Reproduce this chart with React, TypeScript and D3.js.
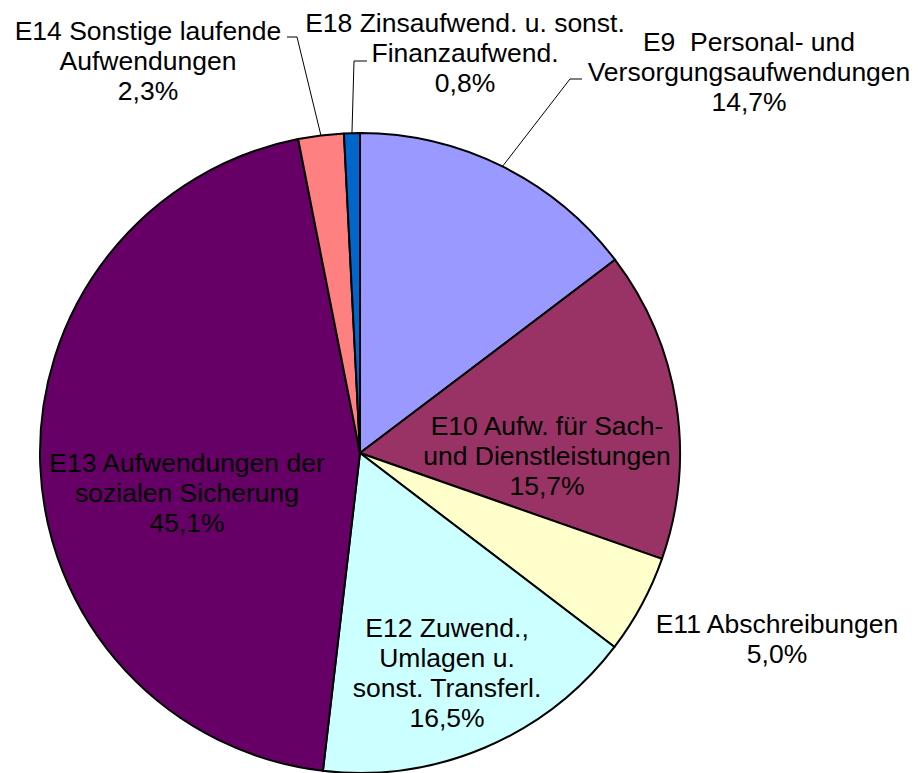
import React from "react";
import * as d3 from "d3";

const categories = [
  "E9  Personal- und Versorgungsaufwendungen",
  "E10 Aufw. für Sach- und Dienstleistungen",
  "E11 Abschreibungen",
  "E12 Zuwend., Umlagen u. sonst. Transferl.",
  "E13 Aufwendungen der sozialen Sicherung",
  "E14 Sonstige laufende Aufwendungen",
  "E18 Zinsaufwend. u. sonst. Finanzaufwend.",
];
const values = [14.7, 15.7, 5.0, 16.5, 45.1, 2.3, 0.8];
const labelLines = [
  ["E9  Personal- und", "Versorgungsaufwendungen", "14,7%"],
  ["E10 Aufw. für Sach-", "und Dienstleistungen", "15,7%"],
  ["E11 Abschreibungen", "5,0%"],
  ["E12 Zuwend.,", "Umlagen u.", "sonst. Transferl.", "16,5%"],
  ["E13 Aufwendungen der", "sozialen Sicherung", "45,1%"],
  ["E14 Sonstige laufende", "Aufwendungen", "2,3%"],
  ["E18 Zinsaufwend. u. sonst.", "Finanzaufwend.", "0,8%"],
];
const colors = ["#9999FF", "#993366", "#FFFFCC", "#CCFFFF", "#660066", "#FF8080", "#0066CC"];

// layout: label center x, first baseline y, optional leader elbow
const labelLayout = [
  { x: 749, y: 51, elbow: [570, 79], tick: [582, 79] },
  { x: 547, y: 435 },
  { x: 777, y: 633 },
  { x: 447, y: 637 },
  { x: 187, y: 472 },
  { x: 148, y: 40, elbow: [297, 37], tick: [287, 37] },
  { x: 465, y: 32, elbow: [354, 61], tick: [367, 61] },
];

const W = 919;
const H = 773;
const cx = 360;
const cy = 453;
const R = 320;
const lineH = 30;
const font = "'Liberation Sans', Arial, sans-serif";

export default function App() {
  const pie = d3
    .pie<number>()
    .sort(null)
    .value((d) => d)
    .startAngle(0)
    .endAngle(2 * Math.PI);
  const arcs = pie(values);
  const arc = d3.arc<d3.PieArcDatum<number>>().innerRadius(0).outerRadius(R);

  return (
    <svg
      width={W}
      height={H}
      style={{ position: "absolute", left: 0, top: 0, background: "#fff" }}
      fontFamily={font}
    >
      <g transform={`translate(${cx},${cy})`}>
        {arcs.map((a, i) => (
          <path
            key={categories[i]}
            d={arc(a) || ""}
            fill={colors[i]}
            stroke="#000"
            strokeWidth={2}
            strokeLinejoin="round"
          />
        ))}
      </g>
      {arcs.map((a, i) => {
        const lay = labelLayout[i];
        if (!lay.elbow) return null;
        const mid = (a.startAngle + a.endAngle) / 2;
        const px = cx + R * Math.sin(mid);
        const py = cy - R * Math.cos(mid);
        return (
          <polyline
            key={"lead" + i}
            points={`${lay.tick[0]},${lay.tick[1]} ${lay.elbow[0]},${lay.elbow[1]} ${px},${py}`}
            fill="none"
            stroke="#000"
            strokeWidth={1}
          />
        );
      })}
      {labelLines.map((lines, i) => {
        const lay = labelLayout[i];
        return (
          <g key={"lab" + i}>
            {lines.map((t, j) => (
              <text
                key={j}
                x={lay.x}
                y={lay.y + j * lineH}
                textAnchor="middle"
                fontSize={26.5}
                fill="#000"
                style={{ whiteSpace: "pre" }}
              >
                {t}
              </text>
            ))}
          </g>
        );
      })}
    </svg>
  );
}
